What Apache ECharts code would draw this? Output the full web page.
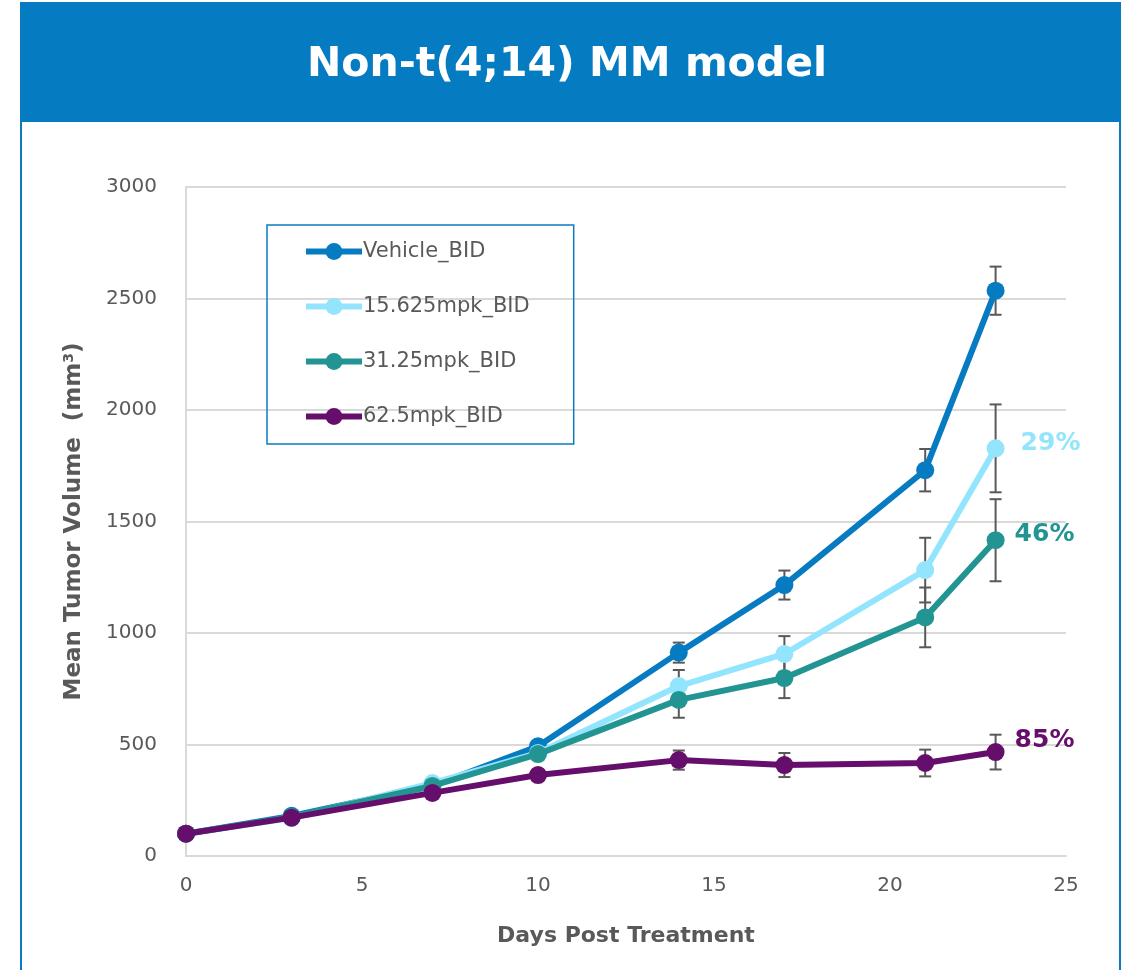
<!DOCTYPE html>
<html>
<head>
<meta charset="utf-8">
<style>
  html, body { margin: 0; padding: 0; background: #ffffff; }
  #chart { width: 1134px; height: 970px; }
</style>
<script src="https://cdn.jsdelivr.net/npm/echarts@6/dist/echarts.min.js"></script>
</head>
<body>
<div id="chart"></div>
<script>
// Days post treatment
const days = [0, 3, 7, 10, 14, 17, 21, 23];

// Group names
const groupNames = ['Vehicle_BID', '15.625mpk_BID', '31.25mpk_BID', '62.5mpk_BID'];
const groupColors = ['#067BC1', '#93E4FD', '#229592', '#660E6B'];

// Mean tumor volume (mm3)
const vehicleMean = [100, 180, 315, 492, 912, 1215, 1730, 2535];
const low15Mean   = [100, 170, 327, 462, 762, 906, 1282, 1828];
const mid31Mean   = [100, 175, 314, 457, 700, 798, 1070, 1416];
const high62Mean  = [100, 172, 283, 363, 430, 408, 417, 466];

// Error (SEM)
const vehicleErr = [0, 0, 0, 0, 45, 65, 95, 108];
const low15Err   = [0, 0, 0, 0, 72, 80, 145, 197];
const mid31Err   = [0, 0, 0, 0, 80, 90, 134, 184];
const high62Err  = [0, 0, 0, 25, 43, 54, 60, 78];

// Tumor growth inhibition on the final day
const tgiLabels = ['', '29%', '46%', '85%'];

const means = [vehicleMean, low15Mean, mid31Mean, high62Mean];
const errs = [vehicleErr, low15Err, mid31Err, high62Err];

const FONT = 'DejaVu Sans';
const GREY = '#595959';

// label placement tweaks for the final-day percentages
const tgiDistance = [0, 16, 10, 10];
const tgiRaise = [0, -5, -6, -12];

const chart = echarts.init(document.getElementById('chart'), null, { renderer: 'canvas' });

const lineSeries = groupNames.map((name, i) => ({
  name: name,
  type: 'line',
  z: 3 + i,
  symbol: 'circle',
  symbolSize: 18,
  lineStyle: { width: 6, color: groupColors[i] },
  itemStyle: { color: groupColors[i] },
  data: days.map((d, k) => {
    const item = { value: [d, means[i][k]] };
    if (k === days.length - 1 && tgiLabels[i]) {
      item.label = {
        show: true,
        position: 'right',
        distance: tgiDistance[i],
        offset: [0, tgiRaise[i]],
        formatter: tgiLabels[i],
        fontFamily: FONT,
        fontWeight: 'bold',
        fontSize: 25,
        color: groupColors[i]
      };
    }
    return item;
  })
}));

const errorSeries = groupNames.map((name, i) => ({
  type: 'custom',
  z: 2,
  silent: true,
  renderItem: function (params, api) {
    const x = api.value(0);
    const lo = api.value(1);
    const hi = api.value(2);
    if (hi === lo) return null;
    const pLo = api.coord([x, lo]);
    const pHi = api.coord([x, hi]);
    const cap = 6;
    const style = { stroke: GREY, lineWidth: 2 };
    return {
      type: 'group',
      children: [
        { type: 'line', shape: { x1: pLo[0], y1: pLo[1], x2: pHi[0], y2: pHi[1] }, style: style },
        { type: 'line', shape: { x1: pLo[0] - cap, y1: pLo[1], x2: pLo[0] + cap, y2: pLo[1] }, style: style },
        { type: 'line', shape: { x1: pHi[0] - cap, y1: pHi[1], x2: pHi[0] + cap, y2: pHi[1] }, style: style }
      ]
    };
  },
  data: days.map((d, k) => [d, means[i][k] - errs[i][k], means[i][k] + errs[i][k]])
}));

chart.setOption({
  animation: false,
  backgroundColor: '#ffffff',
  graphic: [
    { type: 'rect', z: 0, shape: { x: 21, y: 3, width: 1099, height: 980 },
      style: { fill: '#ffffff', stroke: '#0A7BC1', lineWidth: 2 } },
    { type: 'rect', z: 1, shape: { x: 20, y: 3, width: 1101, height: 119 },
      style: { fill: '#057CC1' } },
    { type: 'text', z: 2, left: 'center', top: 45,
      style: { text: 'Non-t(4;14) MM model', fill: '#ffffff', font: 'bold 41px "DejaVu Sans"' } }
  ],
  legend: {
    orient: 'vertical',
    left: 267,
    top: 225,
    padding: [16, 44, 17, 36],
    itemGap: 34,
    itemWidth: 56,
    itemHeight: 21,
    borderColor: '#0A7BC1',
    borderWidth: 1.5,
    lineStyle: { width: 6 },
    itemStyle: { borderWidth: 0 },
    textStyle: { fontFamily: FONT, fontSize: 21, color: GREY, padding: [0, 0, 0, -4] },
    data: groupNames
  },
  grid: {
    left: 186, right: 68, top: 187, bottom: 114,
    show: true, borderColor: '#d9d9d9', borderWidth: 1
  },
  xAxis: {
    type: 'value',
    min: 0, max: 25, interval: 5,
    name: 'Days Post Treatment',
    nameLocation: 'middle',
    nameGap: 69,
    nameTextStyle: { fontFamily: FONT, fontWeight: 'bold', fontSize: 22, color: GREY },
    axisLine: { show: true, lineStyle: { color: '#d9d9d9', width: 2 } },
    axisTick: { show: false },
    splitLine: { show: false },
    axisLabel: { fontFamily: FONT, fontSize: 20, color: GREY, margin: 20 }
  },
  yAxis: {
    type: 'value',
    min: 0, max: 3000, interval: 500,
    name: '{n|Mean Tumor Volume  (mm}{s|3}{n|)}',
    nameLocation: 'middle',
    nameGap: 100,
    nameRotate: 90,
    nameTextStyle: {
      rich: {
        n: { fontFamily: FONT, fontWeight: 'bold', fontSize: 23, color: GREY },
        s: { fontFamily: FONT, fontWeight: 'bold', fontSize: 14, color: GREY, verticalAlign: 'top', padding: [0, 0, 10, 0] }
      }
    },
    axisLine: { show: true, lineStyle: { color: '#d9d9d9', width: 2 } },
    axisTick: { show: false },
    splitLine: { show: true, lineStyle: { color: '#d9d9d9', width: 2 } },
    axisLabel: {
      fontFamily: FONT, fontSize: 20, color: GREY, margin: 29,
      formatter: function (v) { return String(v); }
    }
  },
  series: errorSeries.concat(lineSeries)
});
</script>
</body>
</html>
